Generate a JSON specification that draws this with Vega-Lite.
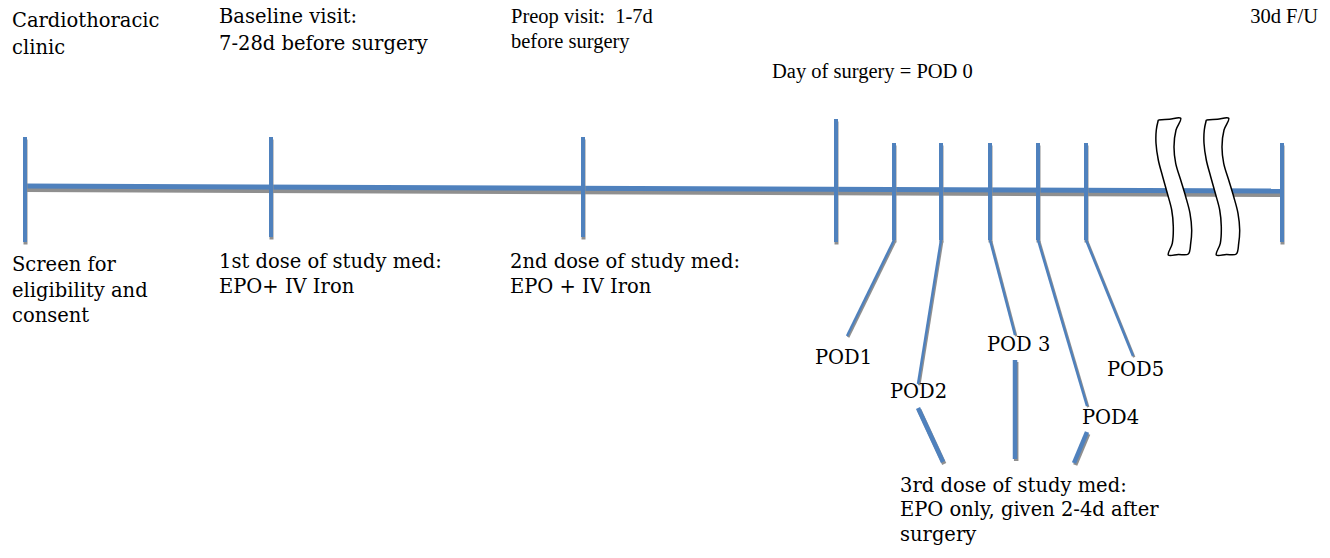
{
  "$schema": "https://vega.github.io/schema/vega-lite/v6.json",
  "width": 1330,
  "height": 558,
  "autosize": {"type": "fit", "contains": "padding"},
  "padding": 0,
  "background": "white",
  "config": {"view": {"stroke": null}},
  "datasets": {
    "mainline": [{"x1": 25, "y1": 186, "x2": 1282, "y2": 191}],
    "ticks": [
      {"x1": 25, "y1": 137, "x2": 25, "y2": 242},
      {"x1": 271, "y1": 137, "x2": 271, "y2": 237},
      {"x1": 583, "y1": 137, "x2": 583, "y2": 237},
      {"x1": 836, "y1": 119, "x2": 836, "y2": 242},
      {"x1": 894, "y1": 143, "x2": 894, "y2": 240},
      {"x1": 941, "y1": 143, "x2": 941, "y2": 240},
      {"x1": 990, "y1": 143, "x2": 990, "y2": 240},
      {"x1": 1038, "y1": 143, "x2": 1038, "y2": 240},
      {"x1": 1086, "y1": 143, "x2": 1086, "y2": 240},
      {"x1": 1282, "y1": 143, "x2": 1282, "y2": 242}
    ],
    "thin": [
      {"x1": 894, "y1": 240, "x2": 847, "y2": 336},
      {"x1": 941, "y1": 240, "x2": 918, "y2": 384},
      {"x1": 990, "y1": 240, "x2": 1015, "y2": 335},
      {"x1": 1038, "y1": 240, "x2": 1087, "y2": 406},
      {"x1": 1086, "y1": 240, "x2": 1133, "y2": 356}
    ],
    "thick": [
      {"x1": 918, "y1": 408, "x2": 943, "y2": 462},
      {"x1": 1015, "y1": 360, "x2": 1015, "y2": 459},
      {"x1": 1087, "y1": 432, "x2": 1074, "y2": 463}
    ],
    "breaks": [
      {"shape": "A", "o": 1, "x": 1158.3, "y": 120},
      {"shape": "A", "o": 2, "x": 1156.3, "y": 130},
      {"shape": "A", "o": 3, "x": 1156, "y": 143.3},
      {"shape": "A", "o": 4, "x": 1158.3, "y": 160},
      {"shape": "A", "o": 5, "x": 1162.7, "y": 176.7},
      {"shape": "A", "o": 6, "x": 1167.3, "y": 193.3},
      {"shape": "A", "o": 7, "x": 1171.7, "y": 210},
      {"shape": "A", "o": 8, "x": 1173.3, "y": 226.7},
      {"shape": "A", "o": 9, "x": 1172.3, "y": 243.3},
      {"shape": "A", "o": 10, "x": 1168.3, "y": 255},
      {"shape": "A", "o": 11, "x": 1178.3, "y": 254.5},
      {"shape": "A", "o": 12, "x": 1188.3, "y": 254},
      {"shape": "A", "o": 13, "x": 1190.7, "y": 243.3},
      {"shape": "A", "o": 14, "x": 1191.7, "y": 230},
      {"shape": "A", "o": 15, "x": 1190, "y": 213.3},
      {"shape": "A", "o": 16, "x": 1185.7, "y": 196.7},
      {"shape": "A", "o": 17, "x": 1180.7, "y": 180},
      {"shape": "A", "o": 18, "x": 1175.7, "y": 163.3},
      {"shape": "A", "o": 19, "x": 1174, "y": 146.7},
      {"shape": "A", "o": 20, "x": 1176, "y": 130},
      {"shape": "A", "o": 21, "x": 1180.7, "y": 118.3},
      {"shape": "A", "o": 22, "x": 1169.5, "y": 119.2},
      {"shape": "A", "o": 23, "x": 1158.3, "y": 120},
      {"shape": "B", "o": 1, "x": 1206.3, "y": 120},
      {"shape": "B", "o": 2, "x": 1204.3, "y": 130},
      {"shape": "B", "o": 3, "x": 1204, "y": 143.3},
      {"shape": "B", "o": 4, "x": 1206.3, "y": 160},
      {"shape": "B", "o": 5, "x": 1210.7, "y": 176.7},
      {"shape": "B", "o": 6, "x": 1215.3, "y": 193.3},
      {"shape": "B", "o": 7, "x": 1219.7, "y": 210},
      {"shape": "B", "o": 8, "x": 1221.3, "y": 226.7},
      {"shape": "B", "o": 9, "x": 1220.3, "y": 243.3},
      {"shape": "B", "o": 10, "x": 1216.3, "y": 255},
      {"shape": "B", "o": 11, "x": 1226.3, "y": 254.5},
      {"shape": "B", "o": 12, "x": 1236.3, "y": 254},
      {"shape": "B", "o": 13, "x": 1238.7, "y": 243.3},
      {"shape": "B", "o": 14, "x": 1239.7, "y": 230},
      {"shape": "B", "o": 15, "x": 1238, "y": 213.3},
      {"shape": "B", "o": 16, "x": 1233.7, "y": 196.7},
      {"shape": "B", "o": 17, "x": 1228.7, "y": 180},
      {"shape": "B", "o": 18, "x": 1223.7, "y": 163.3},
      {"shape": "B", "o": 19, "x": 1222, "y": 146.7},
      {"shape": "B", "o": 20, "x": 1224, "y": 130},
      {"shape": "B", "o": 21, "x": 1228.7, "y": 118.3},
      {"shape": "B", "o": 22, "x": 1217.5, "y": 119.2},
      {"shape": "B", "o": 23, "x": 1206.3, "y": 120}
    ],
    "labels": [
      {"x": 12, "y": 21, "t": "Cardiothoracic"},
      {"x": 12, "y": 48, "t": "clinic"},
      {"x": 219, "y": 17, "t": "Baseline visit:"},
      {"x": 219, "y": 44, "t": "7-28d before surgery"},
      {"x": 12, "y": 265, "t": "Screen for"},
      {"x": 12, "y": 291, "t": "eligibility and"},
      {"x": 12, "y": 316, "t": "consent"},
      {"x": 219, "y": 262, "t": "1st dose of study med:"},
      {"x": 219, "y": 287, "t": "EPO+ IV Iron"},
      {"x": 510, "y": 262, "t": "2nd dose of study med:"},
      {"x": 510, "y": 287, "t": "EPO + IV Iron"},
      {"x": 815, "y": 358, "t": "POD1"},
      {"x": 890, "y": 392, "t": "POD2"},
      {"x": 987, "y": 345, "t": "POD 3"},
      {"x": 1107, "y": 370, "t": "POD5"},
      {"x": 1082, "y": 418, "t": "POD4"},
      {"x": 900, "y": 486, "t": "3rd dose of study med:"},
      {"x": 900, "y": 510, "t": "EPO only, given 2-4d after"},
      {"x": 900, "y": 535, "t": "surgery"}
    ],
    "condensed": [
      {"x": 511, "y": 17, "t": "Preop visit: \u00a01-7d"},
      {"x": 511, "y": 42, "t": "before surgery"},
      {"x": 772, "y": 72, "t": "Day of surgery = POD 0"}
    ],
    "rightlabels": [
      {"x": 1318, "y": 17, "t": "30d F/U"}
    ]
  },
  "encoding": {},
  "layer": [
    {
      "data": {"name": "mainline"},
      "mark": {"type": "rule", "color": "#8f8f8f", "strokeWidth": 5, "yOffset": 3.5, "y2Offset": 3.5},
      "encoding": {
        "x": {"field": "x1", "type": "quantitative", "scale": {"domain": [0, 1330], "nice": false, "zero": false}, "axis": null},
        "y": {"field": "y1", "type": "quantitative", "scale": {"domain": [558, 0], "nice": false, "zero": false}, "axis": null},
        "x2": {"field": "x2"},
        "y2": {"field": "y2"}
      }
    },
    {
      "data": {"name": "mainline"},
      "mark": {"type": "rule", "color": "#4f81bd", "strokeWidth": 5},
      "encoding": {
        "x": {"field": "x1", "type": "quantitative"},
        "y": {"field": "y1", "type": "quantitative"},
        "x2": {"field": "x2"},
        "y2": {"field": "y2"}
      }
    },
    {
      "data": {"name": "ticks"},
      "mark": {"type": "rule", "color": "#8f8f8f", "strokeWidth": 4, "yOffset": 2.5, "y2Offset": 2.5, "xOffset": 0.5, "x2Offset": 0.5},
      "encoding": {
        "x": {"field": "x1", "type": "quantitative"},
        "y": {"field": "y1", "type": "quantitative"},
        "x2": {"field": "x2"},
        "y2": {"field": "y2"}
      }
    },
    {
      "data": {"name": "ticks"},
      "mark": {"type": "rule", "color": "#4f81bd", "strokeWidth": 4},
      "encoding": {
        "x": {"field": "x1", "type": "quantitative"},
        "y": {"field": "y1", "type": "quantitative"},
        "x2": {"field": "x2"},
        "y2": {"field": "y2"}
      }
    },
    {
      "data": {"name": "thin"},
      "mark": {"type": "rule", "color": "#8f8f8f", "strokeWidth": 2.5, "xOffset": 1.2, "x2Offset": 1.2, "yOffset": 1.2, "y2Offset": 1.2},
      "encoding": {
        "x": {"field": "x1", "type": "quantitative"},
        "y": {"field": "y1", "type": "quantitative"},
        "x2": {"field": "x2"},
        "y2": {"field": "y2"}
      }
    },
    {
      "data": {"name": "thin"},
      "mark": {"type": "rule", "color": "#4f81bd", "strokeWidth": 2.5},
      "encoding": {
        "x": {"field": "x1", "type": "quantitative"},
        "y": {"field": "y1", "type": "quantitative"},
        "x2": {"field": "x2"},
        "y2": {"field": "y2"}
      }
    },
    {
      "data": {"name": "thick"},
      "mark": {"type": "rule", "color": "#8f8f8f", "strokeWidth": 4.5, "xOffset": 1.2, "x2Offset": 1.2, "yOffset": 2, "y2Offset": 2},
      "encoding": {
        "x": {"field": "x1", "type": "quantitative"},
        "y": {"field": "y1", "type": "quantitative"},
        "x2": {"field": "x2"},
        "y2": {"field": "y2"}
      }
    },
    {
      "data": {"name": "thick"},
      "mark": {"type": "rule", "color": "#4f81bd", "strokeWidth": 4.5},
      "encoding": {
        "x": {"field": "x1", "type": "quantitative"},
        "y": {"field": "y1", "type": "quantitative"},
        "x2": {"field": "x2"},
        "y2": {"field": "y2"}
      }
    },
    {
      "data": {"name": "breaks"},
      "mark": {"type": "line", "fill": "white", "stroke": "black", "strokeWidth": 1.5, "interpolate": "catmull-rom", "strokeJoin": "round"},
      "encoding": {
        "x": {"field": "x", "type": "quantitative"},
        "y": {"field": "y", "type": "quantitative"},
        "detail": {"field": "shape"},
        "order": {"field": "o", "type": "quantitative"}
      }
    },
    {
      "data": {"name": "labels"},
      "mark": {"type": "text", "align": "left", "baseline": "middle", "font": "DejaVu Serif", "fontSize": 19.5, "color": "black"},
      "encoding": {
        "x": {"field": "x", "type": "quantitative"},
        "y": {"field": "y", "type": "quantitative"},
        "text": {"field": "t"}
      }
    },
    {
      "data": {"name": "condensed"},
      "mark": {"type": "text", "align": "left", "baseline": "middle", "font": "Liberation Serif", "fontSize": 20.5, "color": "black"},
      "encoding": {
        "x": {"field": "x", "type": "quantitative"},
        "y": {"field": "y", "type": "quantitative"},
        "text": {"field": "t"}
      }
    },
    {
      "data": {"name": "rightlabels"},
      "mark": {"type": "text", "align": "right", "baseline": "middle", "font": "Liberation Serif", "fontSize": 20.5, "color": "black"},
      "encoding": {
        "x": {"field": "x", "type": "quantitative"},
        "y": {"field": "y", "type": "quantitative"},
        "text": {"field": "t"}
      }
    }
  ]
}
